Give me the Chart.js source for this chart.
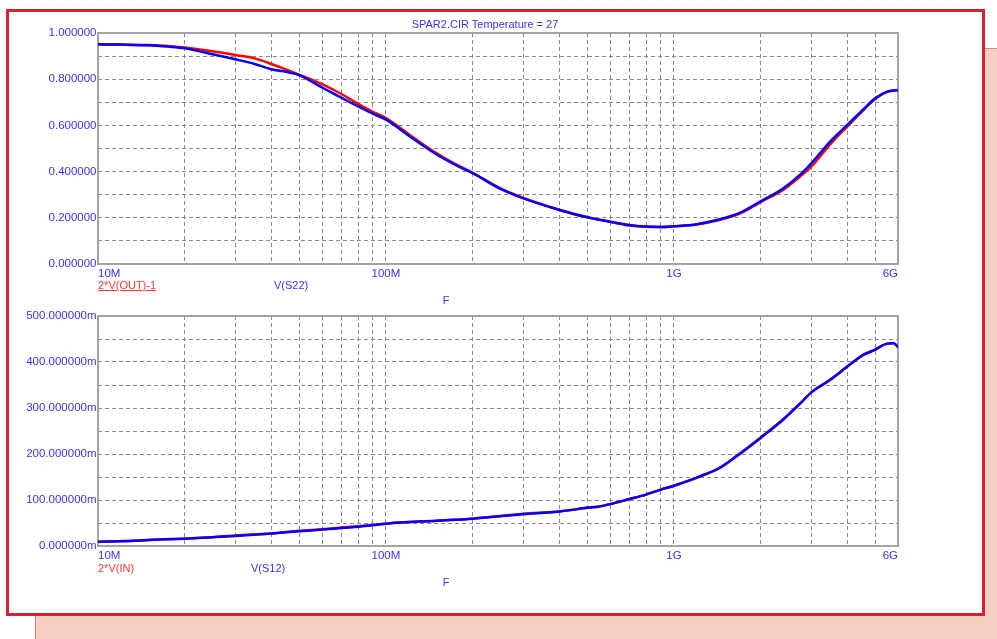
<!DOCTYPE html>
<html>
<head>
<meta charset="utf-8">
<script src="https://cdn.jsdelivr.net/npm/chart.js@4.4.1/dist/chart.umd.min.js"></script>
<style>
  html,body{margin:0;padding:0;background:#fff;width:997px;height:639px;overflow:hidden;position:relative;font-family:"Liberation Sans",Arial,sans-serif;}
  #shadow{position:absolute;left:35px;top:48px;width:980px;height:620px;background:#f5d0c2;border-left:1px solid #d98a80;border-top:1px solid #d98a80;}
  #box{position:absolute;left:6px;top:9px;width:979px;height:607px;box-sizing:border-box;border:3px solid #d8202e;background:#fff;}
  canvas{position:absolute;left:0;}
  .t{position:absolute;font-size:11px;line-height:14px;white-space:nowrap;color:#3535f0;}
  .red{color:#ff3535;}
</style>
</head>
<body>
<div id="shadow"></div>
<div id="box"></div>
<canvas id="c1" width="997" height="300" style="top:0px;width:997px;height:300px"></canvas>
<canvas id="c2" width="997" height="300" style="top:300px;width:997px;height:300px"></canvas>
<div class="t" style="left:485px;top:17px;transform:translateX(-50%)">SPAR2.CIR Temperature = 27</div>
<div class="t red" style="left:98px;top:278px;text-decoration:underline">2*V(OUT)-1</div>
<div class="t" style="left:274px;top:278px">V(S22)</div>
<div class="t" style="left:446px;top:293px;transform:translateX(-50%)">F</div>
<div class="t red" style="left:98px;top:561px">2*V(IN)</div>
<div class="t" style="left:251px;top:561px">V(S12)</div>
<div class="t" style="left:446px;top:575px;transform:translateX(-50%)">F</div>
<script>
// ---- data ----
const freqTop = [1e7,1.2e7,1.5e7,1.75e7,2e7,2.5e7,3e7,3.5e7,4e7,4.5e7,5e7,6e7,7e7,8e7,9e7,1e8,1.25e8,1.5e8,1.75e8,2e8,2.5e8,3e8,4e8,5e8,6e8,7e8,8e8,9e8,1e9,1.2e9,1.5e9,1.7e9,2e9,2.4e9,2.75e9,3e9,3.5e9,4e9,4.5e9,5e9,5.5e9,6e9];
const s22 =   [0.951,0.950,0.947,0.941,0.934,0.908,0.886,0.866,0.843,0.832,0.818,0.764,0.720,0.682,0.651,0.625,0.540,0.474,0.428,0.393,0.325,0.284,0.234,0.202,0.183,0.169,0.162,0.160,0.163,0.172,0.199,0.222,0.271,0.328,0.388,0.436,0.532,0.602,0.664,0.717,0.746,0.753];
const vout =  [0.951,0.950,0.948,0.944,0.937,0.921,0.905,0.890,0.866,0.842,0.820,0.779,0.736,0.693,0.659,0.632,0.546,0.479,0.431,0.395,0.327,0.286,0.235,0.203,0.183,0.167,0.161,0.160,0.163,0.171,0.197,0.219,0.268,0.322,0.380,0.421,0.520,0.595,0.660,0.714,0.745,0.753];

const freqBot = [1e7,1.28e7,1.5e7,2e7,2.5e7,3e7,4e7,5e7,6e7,7e7,8e7,9e7,1e8,1.5e8,2e8,3e8,4e8,5e8,5.5e8,6e8,7e8,8e8,9e8,1e9,1.23e9,1.44e9,1.65e9,2e9,2.4e9,2.75e9,3e9,3.5e9,4e9,4.5e9,5e9,5.5e9,5.8e9,6e9];
const s12 =   [9,11,13,16,19,21.7,27,32,35.6,39,42,45,48.6,55,59.5,69,75,83,86,91,102,111.7,122.6,131,151.5,169.6,195,235,275,310,334,362,390,414,427,440,441,432];
const vin =   [9,11,13,16,19,23,27,33,36.5,40,43,46,48.6,55,59.5,70,75,83,86,91,102,111.7,122.6,131,151,170,196,236,276,311,334,362,390,414,427,440,441,432];

const xTickVals = [1e7,2e7,3e7,4e7,5e7,6e7,7e7,8e7,9e7,1e8,2e8,3e8,4e8,5e8,6e8,7e8,8e8,9e8,1e9,2e9,3e9,4e9,5e9,6e9];
const xTickLabels = {1e7:'10M',1e8:'100M',1e9:'1G',6e9:'6G'};

// ---- chart helpers ----
const FONT = {family:'"Liberation Sans", Arial, sans-serif', size:11.5};
const TXT = '#3535f0';
const GRID = '#8a8a8a';

const framePlugin = {
  id:'frame',
  beforeDatasetsDraw(chart){
    const a = chart.chartArea, ctx = chart.ctx;
    ctx.save();
    ctx.strokeStyle = '#a4a4a4';
    ctx.lineWidth = 2;
    ctx.strokeRect(a.left, a.top, a.right - a.left, a.bottom - a.top);
    ctx.restore();
  }
};

function pts(xs, ys){ return xs.map((x,i)=>({x:x, y:ys[i]})); }

function makeChart(id, xs, blueVals, redVals, yMax, yStep, yLabelFn, pad){
  return new Chart(document.getElementById(id), {
    type:'line',
    data:{datasets:[
      {data:pts(xs, blueVals), borderColor:'#0000ff', borderWidth:2.5, pointRadius:0, cubicInterpolationMode:'monotone', fill:false},
      {data:pts(xs, redVals), borderColor:'#ff0000', borderWidth:2.5, pointRadius:0, cubicInterpolationMode:'monotone', fill:false}
    ]},
    options:{
      responsive:false, animation:false, devicePixelRatio:1,
      layout:{padding:pad},
      plugins:{legend:{display:false}, tooltip:{enabled:false}, title:{display:false}},
      scales:{
        x:{
          type:'logarithmic', min:1e7, max:6e9,
          afterBuildTicks(scale){ scale.ticks = xTickVals.map(v=>({value:v})); },
          afterFit(scale){ scale.height = 20; },
          grid:{color:GRID, lineWidth:1, drawTicks:false},
          border:{display:false, dash:[4,3]},
          ticks:{autoSkip:false, maxRotation:0, align:'inner', padding:3, color:TXT, font:FONT,
            callback(v){ return xTickLabels[v] || ''; }}
        },
        y:{
          min:0, max:yMax,
          afterFit(scale){ scale.width = 98; },
          grid:{color:GRID, lineWidth:1, drawTicks:false},
          border:{display:false, dash:[4,3]},
          ticks:{stepSize:yStep, autoSkip:false, padding:1.5, color:TXT, font:FONT, callback:yLabelFn}
        }
      }
    },
    plugins:[framePlugin]
  });
}

makeChart('c1', freqTop, s22, vout, 1, 0.1,
  v => (Math.round(v*10) % 2 === 0) ? v.toFixed(6) : '',
  {left:0, top:33, right:99, bottom:16});

makeChart('c2', freqBot, s12, vin, 500, 50,
  v => (Math.round(v) % 100 === 0) ? v.toFixed(6) + 'm' : '',
  {left:0, top:16, right:99, bottom:34});
</script>
</body>
</html>
